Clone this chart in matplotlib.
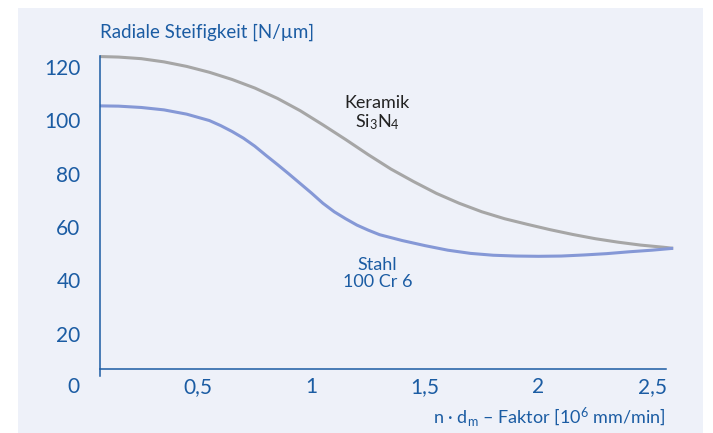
import matplotlib
matplotlib.use("Agg")
import matplotlib.pyplot as plt
from matplotlib.patches import Rectangle

# Werte (n*dm-Faktor in 10^6 mm/min, Steifigkeit in N/µm)
keramik_x = [0.068, 0.15, 0.25, 0.35, 0.45, 0.55, 0.65, 0.75, 0.85, 0.95,
             1.05, 1.15, 1.25, 1.35, 1.45, 1.55, 1.65, 1.75, 1.85, 1.95,
             2.05, 2.15, 2.25, 2.35, 2.45, 2.55, 2.593]
keramik_y = [123.9, 123.7, 123.1, 121.9, 120.2, 118.0, 115.3, 112.1, 108.2,
             103.6, 98.3, 92.8, 87.1, 81.7, 77.0, 72.6, 68.9, 65.7, 63.1,
             61.0, 59.0, 57.2, 55.6, 54.3, 53.2, 52.4, 52.0]

stahl_x = [0.068, 0.15, 0.25, 0.35, 0.45, 0.55, 0.60, 0.65, 0.70, 0.75,
           0.80, 0.85, 0.90, 0.95, 1.00, 1.05, 1.10, 1.15, 1.20, 1.25,
           1.30, 1.40, 1.50, 1.60, 1.70, 1.80, 1.90, 2.00, 2.10, 2.20,
           2.30, 2.40, 2.50, 2.593]
stahl_y = [105.4, 105.3, 104.8, 103.9, 102.3, 99.9, 98.0, 95.8, 93.3, 90.3,
           86.8, 83.4, 79.9, 76.3, 72.7, 68.9, 65.7, 63.1, 60.7, 58.8,
           57.1, 54.9, 53.0, 51.3, 50.1, 49.4, 49.1, 49.0, 49.1, 49.5,
           50.0, 50.7, 51.3, 52.0]

x_ticks = [0.5, 1.0, 1.5, 2.0, 2.5]
x_labels = ["0,5", "1", "1,5", "2", "2,5"]
y_ticks = [20, 40, 60, 80, 100, 120]
y_labels = ["20", "40", "60", "80", "100", "120"]

BLUE = "#1b5ca3"
BG = "#eef1f9"

plt.rcParams["font.family"] = ["Lato", "DejaVu Sans"]
plt.rcParams["mathtext.fontset"] = "custom"
plt.rcParams["mathtext.rm"] = "Lato"
plt.rcParams["mathtext.it"] = "Lato:italic"
plt.rcParams["mathtext.bf"] = "Lato:bold"

W, H = 713, 433
fig = plt.figure(figsize=(W / 100, H / 100), dpi=100, facecolor="white")

# hellblauer Hintergrund
fig.patches.append(Rectangle((18 / W, 0), (703 - 18) / W, (433 - 8) / H,
                             transform=fig.transFigure, facecolor=BG,
                             edgecolor="none", zorder=-10))

ax = fig.add_axes([100 / W, (433 - 376) / H, 580 / W, 320 / H])
ax.set_zorder(5)
ax.set_facecolor("none")
ax.set_xlim(0.0683, 2.623)
ax.set_ylim(4.125, 124.1)

ax.plot(keramik_x, keramik_y, color="#a6a6a6", lw=2.2, clip_on=False,
        solid_capstyle="butt", solid_joinstyle="round")
ax.plot(stahl_x, stahl_y, color="#8598d6", lw=2.2, clip_on=False,
        solid_capstyle="butt", solid_joinstyle="round")

for s in ["top", "right"]:
    ax.spines[s].set_visible(False)
ax.spines["left"].set_color(BLUE)
ax.spines["left"].set_linewidth(1.1)
ax.spines["bottom"].set_color(BLUE)
ax.spines["bottom"].set_linewidth(1.1)
ax.spines["bottom"].set_position(("data", 6.75))
ax.spines["bottom"].set_bounds(0.0683, 2.56)

ax.set_xticks(x_ticks, x_labels)
ax.set_yticks(y_ticks, y_labels)
ax.tick_params(axis="both", length=0, labelsize=15, labelcolor=BLUE)
ax.tick_params(axis="y", pad=14)
ax.tick_params(axis="x", pad=6)

ax.text(-0.05, 0, "0", ha="center", va="center", fontsize=15, color=BLUE,
        clip_on=False)

fig.text(100 / W, 1 - 32 / H, "Radiale Steifigkeit [N/µm]", ha="left",
         va="center", fontsize=13.5, color=BLUE)
fig.text(665 / W, 1 - 417 / H,
         r"n · d$_\mathregular{m}$ – Faktor [10$^\mathregular{6}$ mm/min]",
         ha="right", va="center", fontsize=13, color=BLUE)

ax.text(1.29, 102.6, "Keramik\nSi$_\\mathregular{3}$N$_\\mathregular{4}$",
        ha="center", va="center", fontsize=13, color="#222222",
        linespacing=1.1)
ax.text(1.29, 42.6, "Stahl\n100 Cr 6", ha="center", va="center",
        fontsize=13, color=BLUE, linespacing=1.1)

fig.savefig("out.png", dpi=100, facecolor="white")
